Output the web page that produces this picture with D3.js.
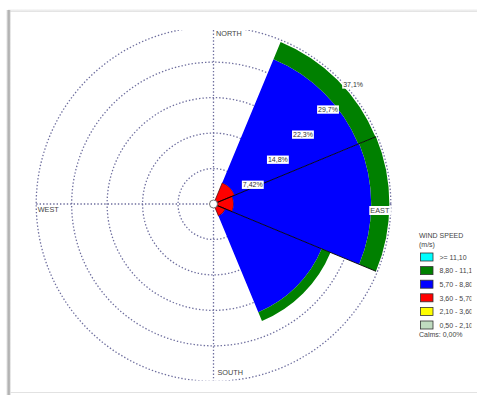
<!DOCTYPE html>
<html>
<head>
<meta charset="utf-8">
<script src="https://cdn.jsdelivr.net/npm/d3@7"></script>
<style>
  html, body { margin: 0; padding: 0; background: #fff; }
  svg { display: block; font-family: "Liberation Sans", Arial, sans-serif; }
</style>
</head>
<body>
<svg id="rose" width="477" height="395"></svg>
<script>
// Wind directions (8 sectors, clockwise from north)
const directions = ["N", "NE", "E", "SE", "S", "SW", "W", "NW"];

// Speed classes, slowest first (m/s)
const speedClasses = ["0,50 - 2,10", "2,10 - 3,60", "3,60 - 5,70", "5,70 - 8,80", "8,80 - 11,10", ">= 11,10"];
const speedColors  = ["#c0dcc0", "#ffff00", "#ff0000", "#0000ff", "#008000", "#00ffff"];

// Frequency (%) of each speed class per direction
const freq_050_210  = [0, 0,    0,    0,    0, 0, 0, 0];
const freq_210_360  = [0, 0,    0,    0,    0, 0, 0, 0];
const freq_360_570  = [0, 4.8,  4.2,  2.7,  0, 0, 0, 0];
const freq_570_880  = [0, 28.0, 28.8, 21.8, 0, 0, 0, 0];
const freq_880_1110 = [0, 3.9,  3.8,  2.0,  0, 0, 0, 0];
const freq_ge_1110  = [0, 0,    0,    0,    0, 0, 0, 0];
const seriesValues = [freq_050_210, freq_210_360, freq_360_570, freq_570_880, freq_880_1110, freq_ge_1110];

// Ring values and their labels
const ringValues = [7.42, 14.84, 22.26, 29.68, 37.1];
const ringLabels = ["7,42%", "14,8%", "22,3%", "29,7%", "37,1%"];
const calmsLabel = "Calms: 0,00%";
const compassLabels = ["NORTH", "EAST", "SOUTH", "WEST"];

const svg = d3.select("#rose");
const cx = 213.5, cy = 204;

// page frame edges
const defs = svg.append("defs");
const lg = defs.append("linearGradient").attr("id", "leftEdge").attr("x1", 0).attr("x2", 1);
lg.append("stop").attr("offset", 0).attr("stop-color", "#e2e2e2");
lg.append("stop").attr("offset", 0.6).attr("stop-color", "#aaaaaa");
lg.append("stop").attr("offset", 1).attr("stop-color", "#d0d0d0");
const tg = defs.append("linearGradient").attr("id", "topEdge").attr("x1", 0).attr("x2", 0).attr("y1", 0).attr("y2", 1);
tg.append("stop").attr("offset", 0).attr("stop-color", "#fafafa");
tg.append("stop").attr("offset", 1).attr("stop-color", "#e0e0e0");

svg.append("rect").attr("x", 8).attr("y", 9).attr("width", 469).attr("height", 3).attr("fill", "url(#topEdge)");
svg.append("rect").attr("x", 6.5).attr("y", 10).attr("width", 4).attr("height", 385).attr("fill", "url(#leftEdge)");
svg.append("line").attr("x1", 10).attr("x2", 477).attr("y1", 392.5).attr("y2", 392.5)
  .attr("stroke", "#e2e2e2").attr("stroke-width", 1);

// plot window clip
defs.append("clipPath").attr("id", "plotClip")
  .append("rect").attr("x", 10).attr("y", 30).attr("width", 461).attr("height", 350.5);
defs.append("clipPath").attr("id", "legendClip")
  .append("rect").attr("x", 10).attr("y", 12).attr("width", 461.5).attr("height", 380);

const r = d3.scaleLinear().domain([0, 37.1]).range([0, 177.3]);
const sectorAngle = d3.scaleBand().domain(directions).range([-Math.PI / 8, 2 * Math.PI - Math.PI / 8]);

const plot = svg.append("g").attr("clip-path", "url(#plotClip)");
const g = plot.append("g").attr("transform", `translate(${cx},${cy})`);

const gridStyle = sel => sel.attr("fill", "none").attr("stroke", "#6e6e9e")
  .attr("stroke-width", 1.3).attr("stroke-dasharray", "1.4,2");

// dotted rings
g.selectAll("circle.ring").data(ringValues).join("circle")
  .attr("class", "ring").attr("r", d => r(d)).call(gridStyle);

// dotted axes
const R = r(ringValues[ringValues.length - 1]);
g.append("line").attr("x1", 0).attr("x2", 0).attr("y1", -R).attr("y2", R).call(gridStyle);
g.append("line").attr("x1", -R).attr("x2", R).attr("y1", 0).attr("y2", 0).call(gridStyle);

// stacked petals
const stacked = d3.stack().keys(d3.range(speedClasses.length))
  .value((d, k) => seriesValues[k][d])(d3.range(directions.length));
const arc = d3.arc();
stacked.forEach((layer, k) => {
  g.append("g").selectAll("path").data(layer.filter(d => d[1] > d[0])).join("path")
    .attr("d", d => {
      const dir = directions[d.data];
      const a0 = sectorAngle(dir);
      return arc({ innerRadius: r(d[0]), outerRadius: r(d[1]), startAngle: a0, endAngle: a0 + sectorAngle.bandwidth() });
    })
    .attr("fill", speedColors[k])
    .attr("stroke", speedColors[k] === "#ff0000" ? "#400000" : "none")
    .attr("stroke-width", 0.7);
});

// boundary lines between adjacent non-empty petals
const totals = directions.map((_, i) => d3.sum(seriesValues, s => s[i]));
directions.forEach((dir, i) => {
  const j = (i + 1) % directions.length;
  if (totals[i] > 0 && totals[j] > 0) {
    const a = sectorAngle(dir) + sectorAngle.bandwidth();
    const len = r(Math.max(totals[i], totals[j]));
    g.append("line").attr("x1", 0).attr("y1", 0)
      .attr("x2", len * Math.sin(a)).attr("y2", -len * Math.cos(a))
      .attr("stroke", "#000").attr("stroke-width", 0.9);
  }
});

// calm circle
g.append("circle").attr("r", 4).attr("fill", "#fff").attr("stroke", "#555").attr("stroke-width", 0.8);

// ring labels along the 45° line
ringValues.forEach((v, i) => {
  const px = r(v) * Math.SQRT1_2 + 3.3, py = -r(v) * Math.SQRT1_2 + 1.7;
  const t = g.append("text").attr("x", px + 1).attr("y", py + 6.6)
    .attr("font-size", 7).attr("fill", "#333").text(ringLabels[i]);
  const bb = t.node().getBBox();
  g.insert("rect", () => t.node()).attr("x", px).attr("y", py)
    .attr("width", bb.width + 2).attr("height", 8.3).attr("fill", "#fff");
});

// compass labels
const compass = [
  { t: compassLabels[0], x: 2.5, y: -R + 9.5, bg: false },
  { t: compassLabels[1], x: R - 20.5, y: 9, bg: true },
  { t: compassLabels[2], x: 4, y: R - 6, bg: false },
  { t: compassLabels[3], x: -R + 1.5, y: 7.5, bg: false }
];
compass.forEach(c => {
  const t = g.append("text").attr("x", c.x).attr("y", c.y)
    .attr("font-size", 7.3).attr("fill", "#444").text(c.t);
  if (c.bg) {
    const bb = t.node().getBBox();
    g.insert("rect", () => t.node()).attr("x", bb.x - 1).attr("y", bb.y)
      .attr("width", bb.width + 2).attr("height", bb.height).attr("fill", "#fff");
  }
});

// legend
const legend = svg.append("g").attr("clip-path", "url(#legendClip)");
legend.append("text").attr("x", 419).attr("y", 237.5).attr("font-size", 7).attr("fill", "#444").text("WIND SPEED");
legend.append("text").attr("x", 419).attr("y", 246.5).attr("font-size", 7).attr("fill", "#444").text("(m/s)");
const legendOrder = d3.range(speedClasses.length).reverse();
const rowY = d3.scalePoint().domain(legendOrder).range([253, 321]);
legendOrder.forEach(k => {
  legend.append("rect").attr("x", 420.5).attr("y", rowY(k)).attr("width", 12.5).attr("height", 8)
    .attr("fill", speedColors[k]).attr("stroke", "#333").attr("stroke-width", 0.8);
  legend.append("text").attr("x", 439.5).attr("y", rowY(k) + 6.8).attr("font-size", 7)
    .attr("fill", "#444").text(speedClasses[k]);
});
legend.append("text").attr("x", 419).attr("y", 337).attr("font-size", 7).attr("fill", "#444").text(calmsLabel);
</script>
</body>
</html>
